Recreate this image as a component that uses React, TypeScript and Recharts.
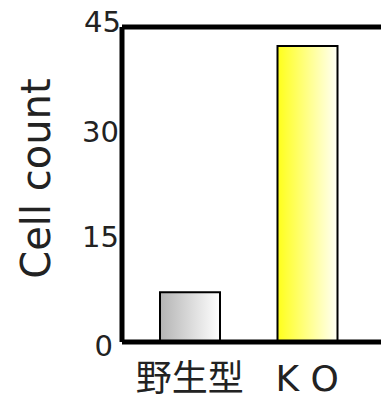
import React from 'react';
import { BarChart, Bar, XAxis, YAxis, Cell, ReferenceLine } from 'recharts';

const categories = ['野生型', 'K O'];
const cellCounts = [7.1, 42.3];
const yTicks = [0, 15, 30, 45];
const gradients = [
    { id: 'gradWild', from: '#b4b4b4', to: '#ffffff' },
    { id: 'gradKo', from: '#ffff1a', to: '#fffff6' },
];

const data = categories.map((name, i) => ({ name, count: cellCounts[i] }));

const renderYLabel = (props: any) => {
    const { viewBox } = props;
    const cx = viewBox.x + 36;
    const cy = viewBox.y + viewBox.height / 2 - 6;
    return (
        <text
            x={cx}
            y={cy}
            transform={`rotate(-90, ${cx}, ${cy})`}
            textAnchor="middle"
            dominantBaseline="central"
            fontSize={40}
            fill="#222"
            fontFamily="'DejaVu Sans', sans-serif"
        >
            Cell count
        </text>
    );
};

// the original labels sit a bit off the gridline at both ends
const renderYTick = (props: any) => {
    const { x, y, payload } = props;
    const v = payload.value;
    const dy = v === 45 ? -5 : v === 0 ? 4 : 0;
    const dx = v === 0 ? -6 : v === 45 ? 2 : 0;
    return (
        <text
            x={x + dx}
            y={y + dy}
            textAnchor="end"
            dominantBaseline="central"
            fontSize={29}
            fill="#222"
            fontFamily="'DejaVu Sans', sans-serif"
        >
            {v}
        </text>
    );
};

const App: React.FC = () => {
    return (
        <div style={{ position: 'absolute', left: 0, top: 0, width: 381, height: 394, background: '#fff' }}>
            <BarChart
                width={381}
                height={394}
                data={data}
                margin={{ top: 27, right: 0, bottom: 0, left: 0 }}
            >
                <defs>
                    {gradients.map((g) => (
                        <linearGradient key={g.id} id={g.id} x1="0" y1="0" x2="1" y2="0">
                            <stop offset="0%" stopColor={g.from} />
                            <stop offset="100%" stopColor={g.to} />
                        </linearGradient>
                    ))}
                </defs>
                <XAxis
                    dataKey="name"
                    height={52}
                    padding={{ left: 9, right: 15 }}
                    axisLine={{ stroke: '#000', strokeWidth: 5 }}
                    tickLine={false}
                    tickSize={0}
                    tickMargin={23}
                    tick={{ fontSize: 36, fill: '#222', fontFamily: "'DejaVu Sans', 'Noto Sans CJK JP', sans-serif" }}
                />
                <YAxis
                    width={122}
                    domain={[0, 45]}
                    ticks={yTicks}
                    axisLine={{ stroke: '#000', strokeWidth: 5 }}
                    tickLine={false}
                    tickSize={0}
                    tickMargin={3}
                    tick={renderYTick}
                    label={renderYLabel}
                />
                <ReferenceLine y={45} stroke="#000" strokeWidth={5} />
                <Bar dataKey="count" barSize={60} stroke="#000" strokeWidth={2} isAnimationActive={false}>
                    {data.map((d, i) => (
                        <Cell key={d.name} fill={`url(#${gradients[i].id})`} />
                    ))}
                </Bar>
            </BarChart>
        </div>
    );
};

export default App;
